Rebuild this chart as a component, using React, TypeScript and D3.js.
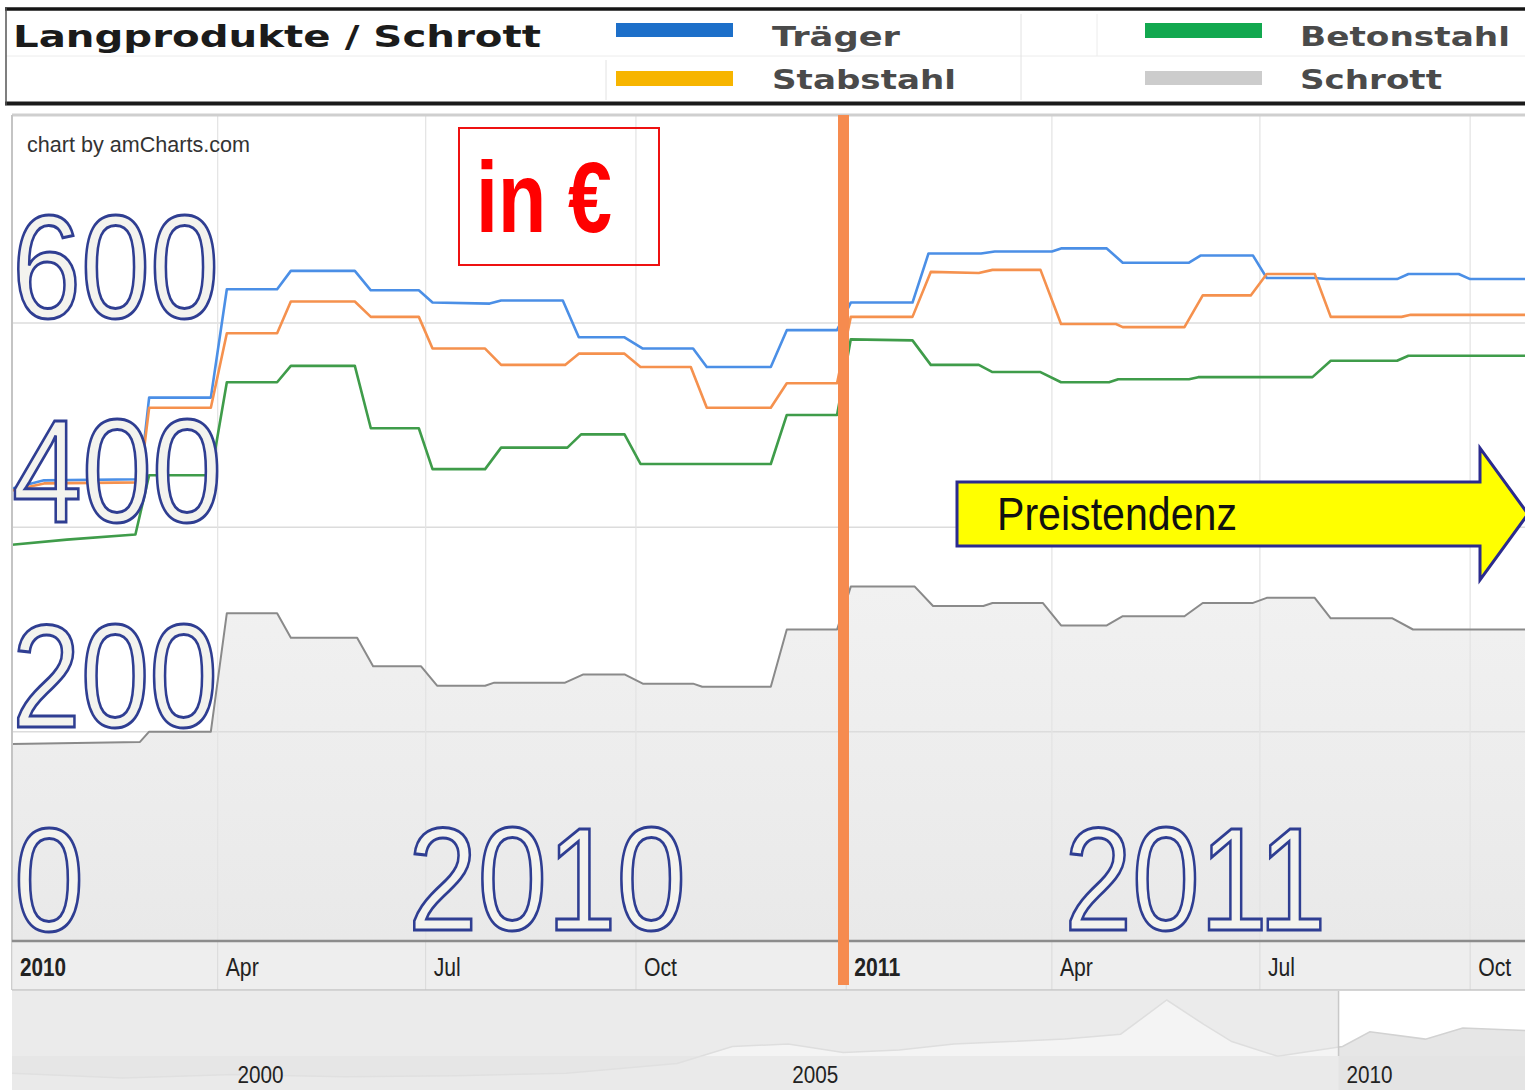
import React from 'react';
import * as d3 from 'd3';

type Pt = [string, number];

const traeger: Pt[] = [["2010-01-01",438],["2010-01-15",446],["2010-02-26",447],["2010-03-02",527],["2010-03-29",527],["2010-04-05",633],["2010-04-27",633],["2010-05-03",651],["2010-05-31",651],["2010-06-07",632],["2010-06-28",632],["2010-07-04",620],["2010-07-29",619],["2010-08-03",622],["2010-08-30",622],["2010-09-06",586],["2010-09-26",586],["2010-10-04",575],["2010-10-26",575],["2010-11-01",557],["2010-11-29",557],["2010-12-06",593],["2010-12-28",593],["2011-01-03",620],["2011-01-30",620],["2011-02-06",668],["2011-03-01",668],["2011-03-07",670],["2011-04-01",670],["2011-04-05",673],["2011-04-25",673],["2011-05-02",659],["2011-05-31",659],["2011-06-05",666],["2011-06-28",666],["2011-07-04",644],["2011-07-25",644],["2011-07-30",643],["2011-08-30",643],["2011-09-04",648],["2011-09-26",648],["2011-10-01",643],["2011-10-25",643]];

const stabstahl: Pt[] = [["2010-01-01",436],["2010-01-15",443],["2010-02-26",444],["2010-03-02",517],["2010-03-29",517],["2010-04-05",590],["2010-04-27",590],["2010-05-03",621],["2010-05-31",621],["2010-06-07",606],["2010-06-28",606],["2010-07-04",575],["2010-07-27",575],["2010-08-03",559],["2010-08-31",559],["2010-09-06",570],["2010-09-26",570],["2010-10-03",557],["2010-10-25",557],["2010-11-01",517],["2010-11-29",517],["2010-12-06",541],["2010-12-28",541],["2011-01-03",606],["2011-01-30",606],["2011-02-07",650],["2011-02-28",649],["2011-03-06",652],["2011-03-27",652],["2011-04-05",599],["2011-04-29",599],["2011-05-02",596],["2011-05-29",596],["2011-06-06",627],["2011-06-27",627],["2011-07-04",648],["2011-07-25",648],["2011-08-01",606],["2011-09-01",606],["2011-09-05",608],["2011-10-25",608]];

const betonstahl: Pt[] = [["2010-01-01",383],["2010-01-25",388],["2010-02-24",393],["2010-03-02",451],["2010-03-29",451],["2010-04-05",542],["2010-04-27",542],["2010-05-03",558],["2010-05-31",558],["2010-06-07",497],["2010-06-28",497],["2010-07-04",457],["2010-07-27",457],["2010-08-03",478],["2010-09-01",478],["2010-09-07",491],["2010-09-26",491],["2010-10-03",462],["2010-11-29",462],["2010-12-06",510],["2010-12-28",510],["2011-01-03",584],["2011-01-30",583],["2011-02-07",559],["2011-02-28",559],["2011-03-06",552],["2011-03-27",552],["2011-04-05",542],["2011-04-26",542],["2011-04-30",545],["2011-05-31",545],["2011-06-04",547],["2011-07-24",547],["2011-08-01",563],["2011-08-30",563],["2011-09-04",568],["2011-10-25",568]];

const schrott: Pt[] = [["2010-01-01",188],["2010-02-26",190],["2010-03-02",200],["2010-03-29",200],["2010-04-05",316],["2010-04-27",316],["2010-05-03",292],["2010-06-01",292],["2010-06-08",264],["2010-06-29",264],["2010-07-06",245],["2010-07-27",245],["2010-07-31",248],["2010-08-31",248],["2010-09-08",256],["2010-09-26",256],["2010-10-04",247],["2010-10-26",247],["2010-10-30",244],["2010-11-29",244],["2010-12-06",300],["2010-12-28",300],["2011-01-03",342],["2011-01-31",342],["2011-02-08",323],["2011-03-02",323],["2011-03-06",326],["2011-03-28",326],["2011-04-05",304],["2011-04-25",304],["2011-05-02",313],["2011-05-29",313],["2011-06-06",326],["2011-06-28",326],["2011-07-04",331],["2011-07-25",331],["2011-08-01",311],["2011-08-28",311],["2011-09-06",300],["2011-10-25",300]];

const scrollerHistory: Pt[] = [["1998-01-01",300],["1999-01-01",262],["2000-01-01",290],["2001-01-01",272],["2002-01-01",280],["2003-01-01",300],["2004-01-01",380],["2004-07-01",520],["2005-01-01",540],["2005-07-01",470],["2006-01-01",490],["2006-07-01",540],["2007-01-01",560],["2007-07-01",580],["2008-01-01",620],["2008-06-01",900],["2008-10-01",700],["2009-01-01",560],["2009-06-01",440],["2010-01-01",520],["2010-04-01",640],["2010-10-01",580],["2011-02-01",670],["2011-08-25",650]];

const xTicks = ["2010-01-01","2010-04-01","2010-07-01","2010-10-01","2011-01-01","2011-04-01","2011-07-01","2011-10-01"];
const xTickLabels = ["2010","Apr","Jul","Oct","2011","Apr","Jul","Oct"];
const xTickBold = [true,false,false,false,true,false,false,false];
const valueTicks = [0,200,400,600];
const scrollerTicks = ["2000-01-01","2005-01-01","2010-01-01"];
const scrollerTickLabels = ["2000","2005","2010"];
const yearMarks = ["2010","2011"];

const legendNames = ["Träger","Stabstahl","Betonstahl","Schrott"];
const legendColors = ["#1d6fc9","#f7b500","#12a84f","#cccccc"];
const lineColors = ["#4b8fe6","#f5914e","#3f9c4a","#8a8a8a"];

const title = "Langprodukte / Schrott";
const credit = "chart by amCharts.com";
const unitLabel = "in €";
const trendLabel = "Preistendenz";

const parse = (s: string) => new Date(s + "T00:00:00Z");

const SANS = "'Liberation Sans', Arial, sans-serif";
const WIDE = "'DejaVu Sans', Verdana, sans-serif";

export default function App() {
  const W = 1525, H = 1090;
  const left = 12, right = 1525, top = 115, bottom = 940;

  const x = d3.scaleUtc().domain([parse("2010-01-01"), parse("2011-10-25")]).range([left, right]);
  const y = d3.scaleLinear().domain([0, 600]).range([936, 323]);

  const line = d3.line<Pt>().x(d => x(parse(d[0]))).y(d => y(d[1]));
  const area = d3.area<Pt>().x(d => x(parse(d[0]))).y0(bottom).y1(d => y(d[1]));

  const xs = d3.scaleUtc().domain([parse("1998-01-01"), parse("2011-08-25")]).range([left, right]);
  const ys = d3.scaleLinear().domain([0, 900]).range([1110, 1000]);
  const sArea = d3.area<Pt>().x(d => xs(parse(d[0]))).y0(1090).y1(d => ys(d[1]));
  const sLine = d3.line<Pt>().x(d => xs(parse(d[0]))).y(d => ys(d[1]));
  const selX = xs(x.domain()[0]) - 4;

  const series = [traeger, stabstahl, betonstahl, schrott];

  const legendCols = [
    { sw: 616, tx: 772 },
    { sw: 1145, tx: 1300 },
  ];
  const legendRows = [{ sy: 23, ty: 46 }, { sy: 71, ty: 89 }];
  const legendLens = [128, 184, 210, 142];
  const swH = [14, 15, 15, 14];

  const bigLabel = (txt: string, tx: number, ty: number, len: number, key: string) => (
    <text key={key} x={tx} y={ty} fontFamily={SANS} fontSize={147} fill="#f3f3ee" stroke="#2f3e92" strokeWidth={3}
      textLength={len} lengthAdjust="spacingAndGlyphs">{txt}</text>
  );
  const valueLens: Record<number, number> = { 0: 70, 200: 206, 400: 210, 600: 207 };
  const yearOffsets = [396, 218];
  const yearLens = [278, 262];

  return (
    <svg width={W} height={H} style={{ position: 'absolute', left: 0, top: 0, background: '#fff' }}>
      <defs>
        <clipPath id="plot"><rect x={left} y={top} width={right - left} height={bottom - top} /></clipPath>
        <clipPath id="scrUnsel"><rect x={left} y={991} width={selX - left} height={99} /></clipPath>
        <clipPath id="scrSel"><rect x={selX} y={991} width={right - selX} height={99} /></clipPath>
        <linearGradient id="areaGrad" x1="0" y1="0" x2="0" y2="1">
          <stop offset="0" stopColor="#f1f1f1" />
          <stop offset="1" stopColor="#e9e9e9" />
        </linearGradient>
      </defs>

      {/* Header */}
      <rect x={5} y={8} width={W - 5} height={97} fill="#ffffff" />
      <line x1={6} x2={W} y1={56} y2={56} stroke="#ececec" strokeWidth={1} />
      <line x1={606} x2={606} y1={60} y2={100} stroke="#e2e2e2" strokeWidth={1} />
      <line x1={1021} x2={1021} y1={14} y2={100} stroke="#e2e2e2" strokeWidth={1} />
      <line x1={1097} x2={1097} y1={14} y2={56} stroke="#ececec" strokeWidth={1} />
      <line x1={5} x2={W} y1={9} y2={9} stroke="#151515" strokeWidth={3.5} />
      <line x1={5} x2={W} y1={103.5} y2={103.5} stroke="#1a1a1a" strokeWidth={4} />
      <line x1={6} x2={6} y1={8} y2={105} stroke="#555" strokeWidth={1.5} />
      <text x={13} y={47} fontFamily={WIDE} fontWeight="bold" fontSize={30} fill="#1b1b1b"
        textLength={528} lengthAdjust="spacingAndGlyphs">{title}</text>
      {legendNames.map((n, i) => {
        const c = legendCols[Math.floor(i / 2)];
        const r = legendRows[i % 2];
        return (
          <g key={n}>
            <rect x={c.sw} y={r.sy} width={117} height={swH[i]} fill={legendColors[i]} />
            <text x={c.tx} y={r.ty} fontFamily={WIDE} fontWeight="bold" fontSize={27} fill="#4a4a4a"
              textLength={legendLens[i]} lengthAdjust="spacingAndGlyphs">{n}</text>
          </g>
        );
      })}

      {/* Plot area */}
      <rect x={left} y={top} width={right - left} height={bottom - top} fill="#ffffff" />
      <g clipPath="url(#plot)">
        <path d={area(schrott) || ''} fill="url(#areaGrad)" />
        {valueTicks.filter(v => v > 0).map(v => (
          <line key={v} x1={left} x2={right} y1={y(v)} y2={y(v)} stroke="#dcdcdc" strokeWidth={1.5} />
        ))}
        {xTicks.map(t => (
          <line key={t} x1={x(parse(t))} x2={x(parse(t))} y1={top} y2={bottom} stroke="#e3e3e3" strokeWidth={1.2} />
        ))}
        {series.map((s, i) => (
          <path key={i} d={line(s) || ''} fill="none" stroke={lineColors[i]} strokeWidth={i === 3 ? 2 : 2.6} strokeLinejoin="round" />
        ))}
      </g>
      <line x1={left} x2={right} y1={top} y2={top} stroke="#cfcfcf" strokeWidth={3} />
      <line x1={left} x2={left} y1={top} y2={990} stroke="#c4c4c4" strokeWidth={2} />

      <text x={27} y={152} fontFamily={SANS} fontSize={22} fill="#333" textLength={223} lengthAdjust="spacingAndGlyphs">{credit}</text>

      {/* unit box */}
      <rect x={459} y={128} width={200} height={137} fill="none" stroke="#ee1111" strokeWidth={2} />
      <text x={476} y={232} fontFamily={SANS} fontWeight="bold" fontSize={100} fill="#ff0000"
        textLength={136} lengthAdjust="spacingAndGlyphs">{unitLabel}</text>

      {/* big value labels */}
      {valueTicks.map(v => bigLabel(String(v), v === 0 ? 14 : 12, y(v) - 5, valueLens[v], 'v' + v))}

      {/* big year labels */}
      {yearMarks.map((yr, i) => bigLabel(yr, x(parse(xTicks[i * 4])) + yearOffsets[i], 930, yearLens[i], 'y' + yr))}

      {/* Trend arrow */}
      <path d="M957,482 L1480,482 L1480,448 L1528,514 L1480,580 L1480,546 L957,546 Z" fill="#ffff00" stroke="#2b2b8e" strokeWidth={3} strokeLinejoin="miter" />
      <text x={997} y={530} fontFamily={SANS} fontSize={46} fill="#111" textLength={240} lengthAdjust="spacingAndGlyphs">{trendLabel}</text>

      {/* Category axis band */}
      <rect x={left} y={941} width={right - left} height={49} fill="#eeeeee" />
      {xTicks.map(t => (
        <line key={'s' + t} x1={x(parse(t))} x2={x(parse(t))} y1={942} y2={990} stroke="#d9d9d9" strokeWidth={1} />
      ))}
      <line x1={left} x2={right} y1={941} y2={941} stroke="#8c8c8c" strokeWidth={2.5} />
      <line x1={left} x2={right} y1={990} y2={990} stroke="#c6c6c6" strokeWidth={1.5} />
      {xTicks.map((t, i) => (
        <text key={'l' + t} x={x(parse(t)) + 8} y={976} fontFamily={SANS} fontSize={25}
          fontWeight={xTickBold[i] ? 'bold' : 'normal'} fill="#222"
          textLength={xTickBold[i] ? 46 : (xTickLabels[i] === 'Jul' ? 27 : 33)} lengthAdjust="spacingAndGlyphs">{xTickLabels[i]}</text>
      ))}

      {/* Scroller */}
      <rect x={left} y={991} width={right - left} height={99} fill="#ebebeb" />
      <rect x={selX} y={991} width={right - selX} height={99} fill="#ffffff" />
      <g clipPath="url(#scrUnsel)">
        <path d={sArea(scrollerHistory) || ''} fill="#f4f4f4" />
        <path d={sLine(scrollerHistory) || ''} fill="none" stroke="#dedede" strokeWidth={1.5} />
      </g>
      <g clipPath="url(#scrSel)">
        <path d={sArea(scrollerHistory) || ''} fill="#e6e6e6" />
        <path d={sLine(scrollerHistory) || ''} fill="none" stroke="#d2d2d2" strokeWidth={1.5} />
      </g>
      <rect x={left} y={1056} width={right - left} height={34} fill="#e2e2e2" opacity={0.55} />
      <line x1={selX} x2={selX} y1={991} y2={1056} stroke="#c8c8c8" strokeWidth={1.5} />
      {scrollerTicks.map((t, i) => (
        <text key={t} x={xs(parse(t)) + 4} y={1083} fontFamily={SANS} fontSize={23} fill="#222"
          textLength={46} lengthAdjust="spacingAndGlyphs">{scrollerTickLabels[i]}</text>
      ))}

      {/* Orange divider */}
      <rect x={838} y={top} width={11} height={985 - top} fill="#f68b4f" />
    </svg>
  );
}
